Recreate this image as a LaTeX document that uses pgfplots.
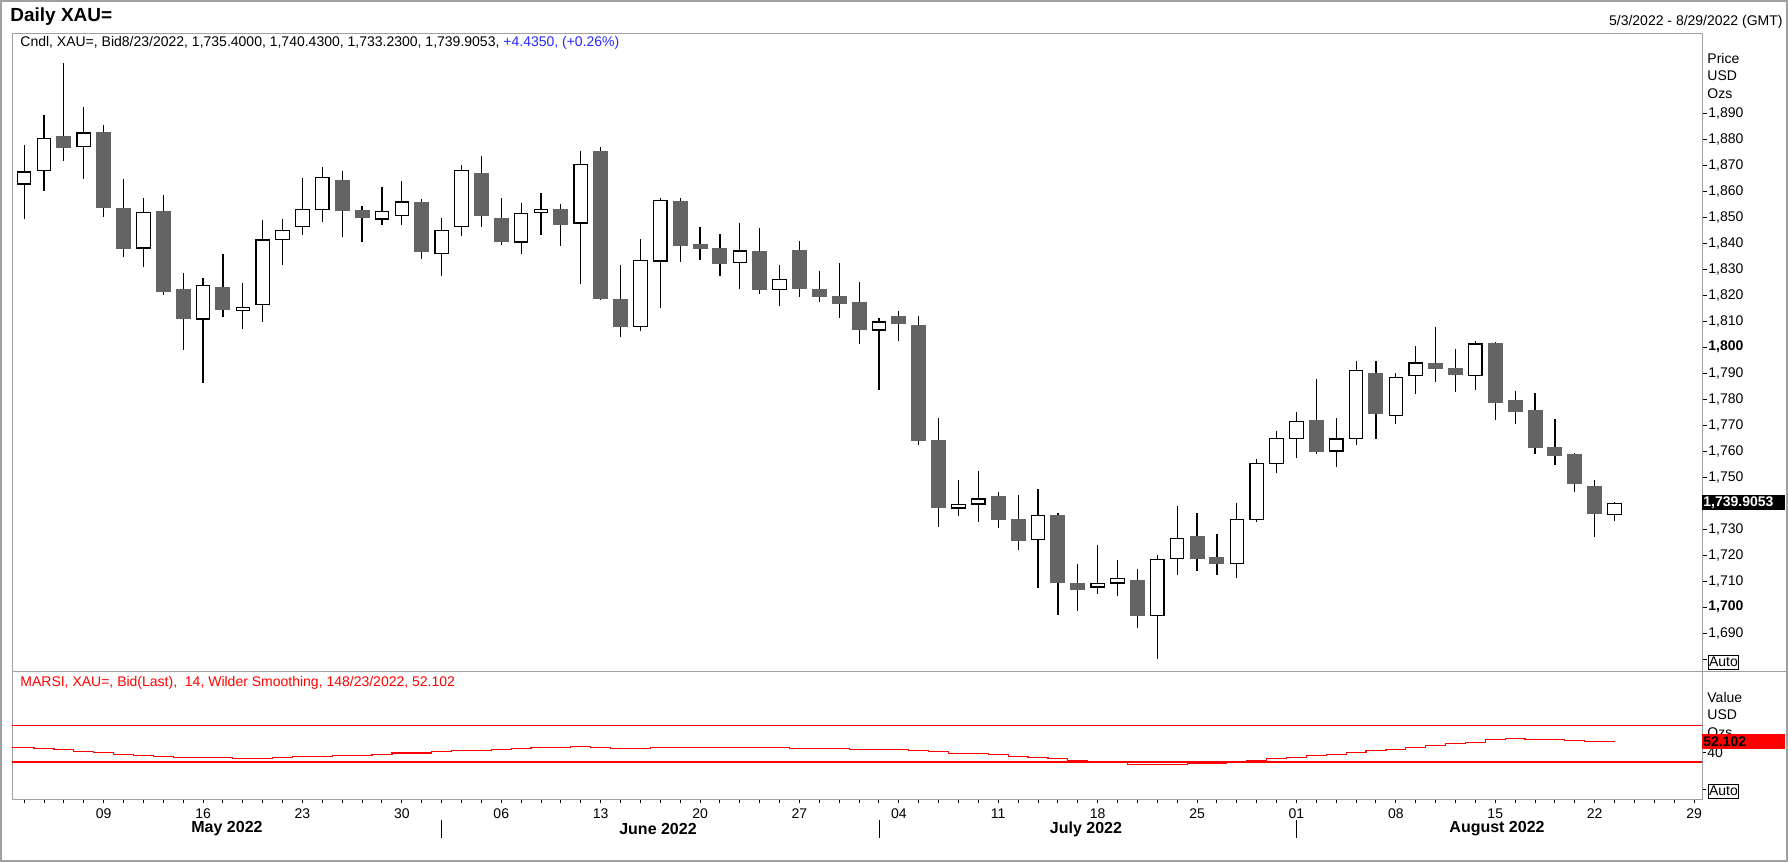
\documentclass[border=0pt]{standalone}
\usepackage{fontspec}
\setmainfont{Liberation Sans}
\usepackage{pgfplots}
\pgfplotsset{compat=1.18}
\usepackage{pgfplotstable}
\definecolor{candlegray}{HTML}{646464}
\definecolor{framegray}{HTML}{A0A0A0}
\definecolor{infoblue}{RGB}{40,40,255}
\newcommand\fs{\fontsize{7}{8.4}\selectfont}

\pgfplotstableread{
i o h l c
1 1862.5 1877.7 1849.3 1867.6
2 1867.6 1889.3 1860.1 1880.6
4 1876.8 1892.2 1864.8 1882.6
7 1837.9 1857.2 1830.9 1851.9
10 1810.6 1826.5 1786.2 1823.8
12 1814.0 1824.7 1806.8 1815.3
13 1816.0 1848.9 1809.8 1841.4
14 1841.0 1849.3 1831.5 1845.2
15 1846.0 1865.0 1843.2 1853.0
16 1852.8 1869.2 1848.2 1865.6
19 1849.0 1861.6 1847.0 1852.5
20 1850.5 1863.9 1847.0 1856.0
22 1835.9 1849.6 1827.3 1845.2
23 1846.0 1870.0 1842.8 1868.0
26 1840.2 1855.4 1835.8 1851.7
27 1851.4 1859.2 1843.2 1853.0
29 1847.5 1875.5 1824.4 1870.6
32 1807.8 1841.6 1806.1 1833.4
33 1832.9 1857.2 1815.1 1856.5
37 1832.4 1847.6 1822.4 1837.2
39 1821.8 1831.5 1815.9 1826.1
44 1806.3 1811.2 1783.3 1809.9
48 1737.9 1749.0 1735.0 1739.6
49 1739.4 1752.3 1732.7 1741.8
52 1725.6 1745.5 1707.2 1735.3
55 1707.5 1723.9 1705.2 1709.2
56 1709.0 1718.1 1704.4 1711.1
58 1696.5 1720.1 1680.2 1718.4
59 1718.4 1738.9 1712.5 1726.5
62 1716.4 1740.0 1711.0 1733.8
63 1733.3 1757.0 1732.9 1755.4
64 1754.9 1767.7 1751.4 1765.2
65 1764.5 1775.0 1757.2 1771.5
67 1759.8 1772.7 1753.7 1764.9
68 1764.5 1794.6 1762.2 1791.1
70 1773.3 1790.0 1770.3 1788.4
71 1788.8 1800.4 1782.1 1794.1
74 1788.7 1802.2 1783.6 1801.4
81 1735.40 1740.43 1733.23 1739.91
}\upc

\pgfplotstableread{
i o h l c
3 1881.2 1909.2 1871.7 1876.4
5 1882.8 1885.3 1850.2 1853.6
6 1853.4 1864.8 1834.7 1837.9
8 1852.4 1858.3 1820.0 1821.3
9 1822.4 1828.5 1798.7 1810.8
11 1823.2 1835.8 1811.6 1814.2
17 1864.2 1867.7 1842.2 1852.4
18 1852.7 1854.2 1840.4 1849.6
21 1855.8 1856.9 1833.8 1836.5
24 1867.1 1873.5 1846.0 1850.5
25 1849.6 1857.4 1839.4 1840.3
28 1853.1 1855.1 1838.7 1846.9
30 1875.5 1877.0 1818.2 1818.5
31 1818.5 1831.5 1803.7 1807.7
34 1856.2 1857.2 1832.7 1838.8
35 1839.6 1846.1 1833.5 1837.8
36 1838.1 1843.5 1827.3 1832.0
38 1837.0 1845.8 1820.4 1821.9
40 1837.3 1840.8 1819.2 1822.4
41 1822.4 1829.2 1817.4 1819.2
42 1819.7 1832.3 1811.2 1816.6
43 1817.4 1825.0 1801.1 1806.6
45 1811.9 1813.9 1802.3 1808.9
46 1808.6 1811.9 1762.4 1763.9
47 1764.3 1772.7 1730.9 1738.2
50 1742.7 1744.2 1730.3 1733.5
51 1733.9 1743.2 1721.9 1725.4
53 1735.5 1736.2 1697.1 1709.3
54 1709.3 1716.6 1698.4 1706.6
57 1710.5 1714.6 1692.1 1696.4
60 1727.4 1736.2 1714.0 1718.6
61 1719.3 1728.2 1712.5 1716.6
66 1771.9 1787.7 1759.0 1759.5
69 1790.0 1794.6 1764.5 1774.1
72 1793.8 1807.7 1786.4 1791.7
73 1792.0 1799.3 1782.6 1789.1
75 1801.6 1802.0 1771.9 1778.6
76 1779.7 1783.2 1770.6 1775.1
77 1775.9 1782.4 1759.0 1761.0
78 1761.6 1772.4 1754.8 1758.0
79 1758.9 1759.3 1744.4 1747.5
80 1746.5 1749.0 1726.8 1735.6
}\downc

\pgfplotstableread{
i r
0 46.3
1 46.3
2 44.8
3 43.4
4 41.9
5 40.1
6 38.6
7 37.5
8 36.4
9 35.3
10 35.3
11 35.3
12 34.2
13 34.2
14 35.3
15 36.4
16 36.4
17 37.5
18 37.5
19 38.6
20 39.8
21 39.8
22 41.2
23 43.0
24 43.0
25 44.1
26 45.2
27 46.3
28 46.3
29 47.4
30 46.0
31 45.2
32 45.2
33 46.3
34 46.3
35 46.3
36 46.3
37 46.3
38 46.3
39 46.3
40 45.2
41 45.2
42 45.2
43 44.1
44 44.1
45 44.1
46 43.0
47 41.6
48 39.7
49 39.7
50 38.3
51 36.5
52 35.0
53 33.6
54 31.8
55 31.0
56 29.2
57 27.8
58 27.0
59 27.0
60 28.1
61 28.1
62 29.2
63 31.8
64 33.6
65 35.4
66 36.8
67 38.6
68 40.4
69 42.3
70 44.1
71 45.9
72 47.7
73 49.9
74 51.7
75 54.5
76 55.4
77 55.0
78 55.0
79 53.9
80 52.8
81 52.1
}\rsi

\begin{document}
\begin{tikzpicture}[x=0.5pt,y=-0.5pt]
\useasboundingbox (0,0) rectangle (1788,862);
\draw[framegray, line width=0.6pt] (1,1) rectangle (1787,861);
\node[anchor=west, inner sep=0pt, font=\fontsize{9.5}{11}\selectfont\bfseries] at (10,17) {Daily XAU=};
\node[anchor=east, inner sep=0pt, font=\fs] at (1783,22) {5/3/2022 - 8/29/2022 (GMT)};

% ---------------- price panel ----------------
\begin{axis}[at={(6pt,-335.5pt)}, anchor=south west, scale only axis,
  width=845pt, height=319pt,
  xmin=0.39, xmax=85.4, ymin=1675.4, ymax=1920.8,
  axis line style={framegray, line width=0.5pt},
  xtick=\empty,
  ytick={1680,1690,...,1890},
  yticklabels={{},{1,690},{\textbf{1,700}},{1,710},{1,720},{1,730},{1,740},{1,750},{1,760},{1,770},{1,780},{1,790},{\textbf{1,800}},{1,810},{1,820},{1,830},{1,840},{1,850},{1,860},{1,870},{1,880},{1,890}},
  ytick pos=right, yticklabel pos=right,
  tick align=outside, major tick length=2.5pt,
  tick style={black, line width=0.5pt},
  yticklabel style={anchor=west, inner sep=0pt, xshift=0.5pt, font=\fs},
]
% wicks
\addplot[draw=none, mark=none, forget plot, error bars/.cd, y dir=both, y explicit, error mark=none,
  error bar style={draw=black, line width=0.6pt}]
  table[x=i, y expr={0.5*(\thisrow{h}+\thisrow{l})}, y error expr={0.5*(\thisrow{h}-\thisrow{l})}] {\upc};
\addplot[draw=none, mark=none, forget plot, error bars/.cd, y dir=both, y explicit, error mark=none,
  error bar style={draw=black, line width=0.6pt}]
  table[x=i, y expr={0.5*(\thisrow{h}+\thisrow{l})}, y error expr={0.5*(\thisrow{h}-\thisrow{l})}] {\downc};
% down bodies
\addplot[draw=none, mark=none, forget plot, error bars/.cd, y dir=both, y explicit, error mark=none,
  error bar style={draw=candlegray, line width=7.5pt}]
  table[x=i, y expr={0.5*(\thisrow{o}+\thisrow{c})}, y error expr={0.5*(\thisrow{o}-\thisrow{c})}] {\downc};
% up bodies: black outline then white inside
\addplot[draw=none, mark=none, forget plot, error bars/.cd, y dir=both, y explicit, error mark=none,
  error bar style={draw=black, line width=7.3pt}]
  table[x=i, y expr={0.5*(\thisrow{o}+\thisrow{c})}, y error expr={0.5*(\thisrow{c}-\thisrow{o})}] {\upc};
\addplot[draw=none, mark=none, forget plot, error bars/.cd, y dir=both, y explicit, error mark=none,
  error bar style={draw=white, line width=6.1pt}]
  table[x=i, y expr={0.5*(\thisrow{o}+\thisrow{c})}, y error expr={max(0.5*(\thisrow{c}-\thisrow{o})-0.46,0)}] {\upc};
\end{axis}

% ---------------- indicator panel ----------------
\begin{axis}[at={(6pt,-399.5pt)}, anchor=south west, scale only axis,
  width=845pt, height=64pt,
  xmin=0.39, xmax=85.4, ymin=-10.2, ymax=129.2,
  axis line style={framegray, line width=0.5pt},
  xtick={5,10,...,85},
  xticklabels={09,16,23,30,06,13,20,27,04,11,18,25,01,08,15,22,29},
  minor xtick={1,...,85},
  xtick pos=left, ytick pos=right, yticklabel pos=right,
  ytick={0,40}, yticklabels={{},40},
  tick align=outside, major tick length=2pt, minor tick length=2pt,
  tick style={black, line width=0.5pt},
  xticklabel style={anchor=north, inner sep=0pt, yshift=-2.5pt, font=\fs},
  yticklabel style={anchor=west, inner sep=0pt, xshift=0.5pt, font=\fs},
]
\addplot[red, line width=0.6pt, forget plot] coordinates {(0,70) (86,70)};
\addplot[red, line width=0.6pt, forget plot] coordinates {(0,30) (86,30)};
\addplot[red, line width=0.6pt, const plot mark mid, forget plot] table[x=i, y=r] {\rsi};
\end{axis}

\draw[framegray, line width=0.5pt] (1702,671) -- (1788,671);

% panel texts
\node[anchor=west, inner sep=0pt, font=\fs] at (20,43) {Cndl, XAU=, Bid8/23/2022, 1,735.4000, 1,740.4300, 1,733.2300, 1,739.9053, \textcolor{infoblue}{+4.4350, (+0.26\%)}};
\node[anchor=west, inner sep=0pt, font=\fs, text=red] at (20,683) {MARSI, XAU=, Bid(Last),\ \ 14, Wilder Smoothing, 148/23/2022, 52.102};

% right side labels
\node[anchor=west, inner sep=0pt, font=\fs] at (1707,58) {Price};
\node[anchor=west, inner sep=0pt, font=\fs] at (1707,76) {USD};
\node[anchor=west, inner sep=0pt, font=\fs] at (1707,94) {Ozs};
\fill[black] (1702,495) rectangle (1785,510);
\node[anchor=west, inner sep=0pt, font=\fs\bfseries, text=white] at (1703,502.5) {1,739.9053};
\node[draw=black, line width=0.5pt, anchor=west, inner sep=0pt, minimum height=7pt, minimum width=15pt, font=\fs] at (1708,662) {Auto};

\node[anchor=west, inner sep=0pt, font=\fs] at (1707,697) {Value};
\node[anchor=west, inner sep=0pt, font=\fs] at (1707,715) {USD};
\node[anchor=west, inner sep=0pt, font=\fs] at (1707,733) {Ozs};
\fill[red] (1702,734) rectangle (1785,749);
\node[anchor=west, inner sep=0pt, font=\fs\bfseries] at (1703,741.5) {52.102};
\node[draw=black, line width=0.5pt, anchor=west, inner sep=0pt, minimum height=7pt, minimum width=15pt, font=\fs] at (1708,791) {Auto};

% month labels and separators
\draw[black, line width=0.5pt] (441.7,820) -- (441.7,838);
\draw[black, line width=0.5pt] (879,820) -- (879,838);
\draw[black, line width=0.5pt] (1296.5,820) -- (1296.5,838);
\node[font=\fontsize{8}{9.6}\selectfont\bfseries, inner sep=0pt] at (227,829) {May 2022};
\node[font=\fontsize{8}{9.6}\selectfont\bfseries, inner sep=0pt] at (658,829) {June 2022};
\node[font=\fontsize{8}{9.6}\selectfont\bfseries, inner sep=0pt] at (1086,829) {July 2022};
\node[font=\fontsize{8}{9.6}\selectfont\bfseries, inner sep=0pt] at (1497,829) {August 2022};
\end{tikzpicture}
\end{document}
